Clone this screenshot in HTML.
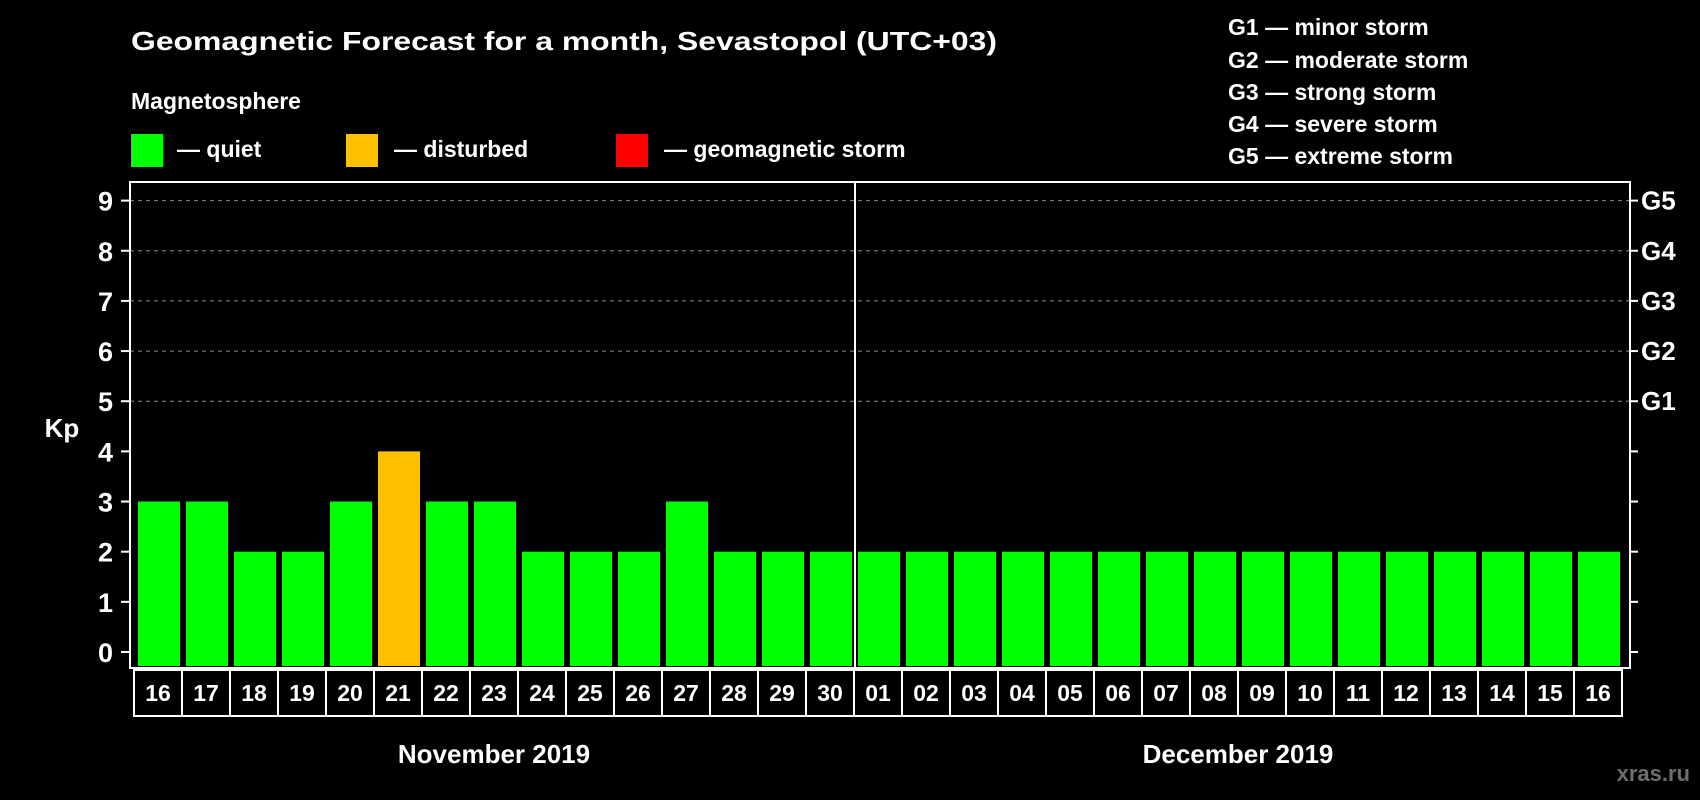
<!DOCTYPE html>
<html><head><meta charset="utf-8"><style>
html,body{margin:0;padding:0;background:#000;}
svg{display:block;font-family:"Liberation Sans",Arial,sans-serif;font-weight:bold;}
</style></head><body>
<svg id="chart" width="1700" height="800" viewBox="0 0 1700 800">
<rect x="0" y="0" width="1700" height="800" fill="#000"/>
<text x="131" y="50" font-size="26" fill="#fff" textLength="866" lengthAdjust="spacingAndGlyphs">Geomagnetic Forecast for a month, Sevastopol (UTC+03)</text>
<text x="131" y="109" font-size="23" fill="#fff">Magnetosphere</text>
<g>
<rect x="131" y="134" width="32" height="33" fill="#00ff00"/>
<text x="177" y="157" font-size="23" fill="#fff">— quiet</text></g>
<g>
<rect x="346" y="134" width="32" height="33" fill="#ffc000"/>
<text x="394" y="157" font-size="23" fill="#fff">— disturbed</text></g>
<g>
<rect x="616" y="134" width="32" height="33" fill="#ff0000"/>
<text x="664" y="157" font-size="23" fill="#fff">— geomagnetic storm</text></g>
<g font-size="23" fill="#fff">
<text x="1228" y="35">G1 — minor storm</text>
<text x="1228" y="68">G2 — moderate storm</text>
<text x="1228" y="100">G3 — strong storm</text>
<text x="1228" y="132">G4 — severe storm</text>
<text x="1228" y="164">G5 — extreme storm</text>
</g>
<text x="62" y="437" font-size="26" fill="#fff" text-anchor="middle">Kp</text>
<g id="grid"></g><g id="bars"></g><g id="axes"></g><g id="dates"></g>
<text x="494" y="763" font-size="26" fill="#fff" text-anchor="middle">November 2019</text>
<text x="1238" y="763" font-size="26" fill="#fff" text-anchor="middle">December 2019</text>
<text x="1690" y="781" font-size="22" fill="#6e6e6e" text-anchor="end">xras.ru</text>
</svg>
<script>
const days = ["16","17","18","19","20","21","22","23","24","25","26","27","28","29","30","01","02","03","04","05","06","07","08","09","10","11","12","13","14","15","16"];
const kpValues = [3,3,2,2,3,4,3,3,2,2,2,3,2,2,2,2,2,2,2,2,2,2,2,2,2,2,2,2,2,2,2];
const yTicks = [0,1,2,3,4,5,6,7,8,9];
const gLabels = ["G1","G2","G3","G4","G5"];
const gLevels = [5,6,7,8,9];
const monthBreakIndex = 15;

const NS="http://www.w3.org/2000/svg";
const plotL=130, plotR=1630, plotT=182, plotB=668;
const y0=652, unit=(652-200.6)/9;
const barStart=138, pitch=48, barW=42;
function yS(v){return y0-v*unit;}
function xS(i){return barStart+i*pitch;}
function mk(tag,attrs,parent){const e=document.createElementNS(NS,tag);for(const k in attrs)e.setAttribute(k,attrs[k]);parent.appendChild(e);return e;}
function color(v){return v>=5?"#ff0000":(v>=4?"#ffc000":"#00ff00");}

const grid=document.getElementById("grid"), bars=document.getElementById("bars"), axes=document.getElementById("axes"), dates=document.getElementById("dates");
gLevels.forEach((lv,k)=>{
  const l=mk("line",{x1:plotL,x2:plotR,y1:yS(lv),y2:yS(lv),stroke:"#8c8c8c","stroke-width":1,"stroke-dasharray":"4,4"},grid);
  
  
  const t=mk("text",{x:1641,y:yS(lv)+9,"font-size":26,fill:"#fff"},axes);
  t.textContent=gLabels[k];
  
  
});
kpValues.forEach((v,i)=>{
  const r=mk("rect",{x:xS(i),y:yS(v),width:barW,height:plotB-yS(v)-2,fill:color(v)},bars);
  
  
});
const frame=mk("rect",{x:plotL,y:plotT,width:plotR-plotL,height:plotB-plotT,fill:"none",stroke:"#fff","stroke-width":2},axes);


const sep=mk("line",{x1:xS(monthBreakIndex)-3,x2:xS(monthBreakIndex)-3,y1:plotT,y2:plotB,stroke:"#fff","stroke-width":2},axes);


yTicks.forEach(v=>{
  const a=mk("line",{x1:plotL-9,x2:plotL,y1:yS(v),y2:yS(v),stroke:"#fff","stroke-width":2},axes);
  
  
  const b=mk("line",{x1:plotR,x2:plotR+8,y1:yS(v),y2:yS(v),stroke:"#fff","stroke-width":2},axes);
  
  
  const t=mk("text",{x:113,y:yS(v)+10,"font-size":27,fill:"#fff","text-anchor":"end"},axes);
  t.textContent=String(v);
  
  
});
const boxL=134, boxT=670, boxB=716;
days.forEach((d,i)=>{
  const bx=boxL+i*pitch;
  const r=mk("rect",{x:bx,y:boxT,width:pitch,height:boxB-boxT,fill:"none",stroke:"#fff","stroke-width":2},dates);
  
  
  const t=mk("text",{x:bx+pitch/2,y:701,"font-size":23,fill:"#fff","text-anchor":"middle"},dates);
  t.textContent=d;
  
  
});
</script>
</body></html>
